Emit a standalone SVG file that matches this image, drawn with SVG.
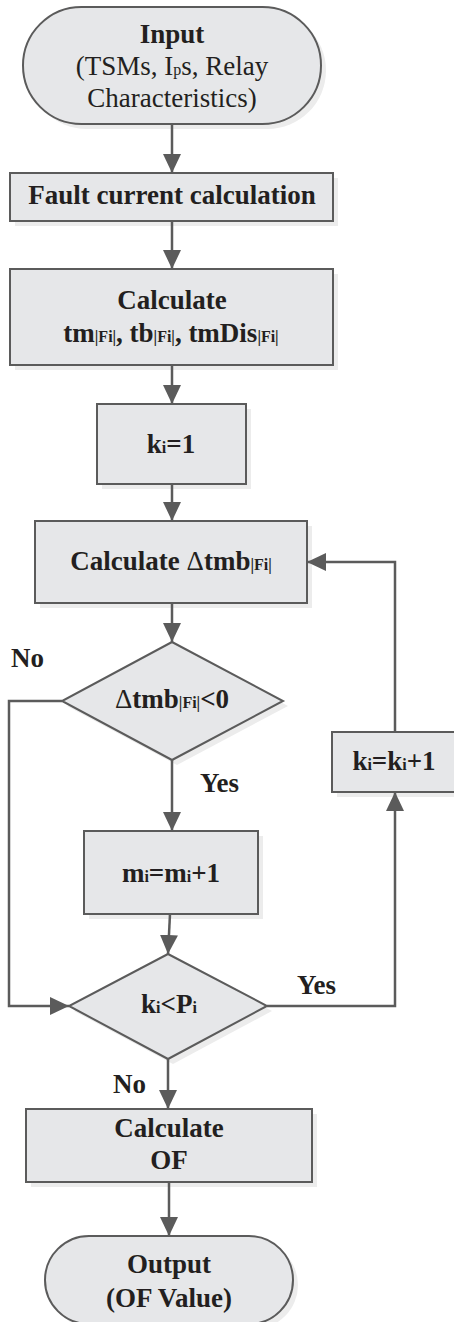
<svg xmlns="http://www.w3.org/2000/svg" width="454" height="1322" viewBox="0 0 454 1322">
<style>
.shape{fill:#e6e7e9;stroke:#5b5b5b;stroke-width:2}
.shadow{fill:#ececec;stroke:none}
.t{font-family:"Liberation Serif","Times New Roman",serif;font-size:27px;fill:#231f20;text-anchor:middle}
.b{font-weight:bold}
.s{font-size:16px}
.lbl{font-family:"Liberation Serif","Times New Roman",serif;font-size:27px;font-weight:bold;fill:#231f20}
.c{fill:none;stroke:#5b5b5b;stroke-width:2.5;marker-end:url(#ah)}
.cn{fill:none;stroke:#5b5b5b;stroke-width:2.5}
</style>
<defs>
<marker id="ah" markerUnits="userSpaceOnUse" markerWidth="20" markerHeight="20" viewBox="0 0 20 20" refX="19" refY="10" orient="auto">
<path d="M0,1 L19,10 L0,19 Z" fill="#5b5b5b"/>
</marker>
</defs>

<g id="input">
<rect class="shadow" x="28" y="12" width="298" height="117" rx="58.5"/>
<rect class="shape" x="23" y="7" width="298" height="117" rx="58.5"/>
<text class="t b" x="172" y="43">Input</text>
<text class="t" x="172" y="75">(TSMs, I<tspan class="s">p</tspan>s, Relay</text>
<text class="t" x="172" y="107">Characteristics)</text>
</g>

<g id="fault">
<rect class="shadow" x="15" y="178" width="323" height="48"/>
<rect class="shape" x="10" y="173" width="323" height="48"/>
<text class="t b" x="172" y="204">Fault current calculation</text>
</g>

<g id="calc1">
<rect class="shadow" x="15" y="274" width="323" height="96"/>
<rect class="shape" x="10" y="269" width="323" height="96"/>
<text class="t b" x="172" y="309">Calculate</text>
<text class="t b" x="171" y="342">tm<tspan class="s">|Fi|</tspan>, tb<tspan class="s">|Fi|</tspan>, tmDis<tspan class="s">|Fi|</tspan></text>
</g>

<g id="kinit">
<rect class="shadow" x="102" y="409" width="149" height="80"/>
<rect class="shape" x="97" y="404" width="149" height="80"/>
<text class="t b" x="171" y="453">k<tspan class="s">i</tspan>=1</text>
</g>

<g id="calc2">
<rect class="shadow" x="40" y="526" width="272" height="82"/>
<rect class="shape" x="35" y="521" width="272" height="82"/>
<text class="t b" x="171" y="570">Calculate <tspan font-weight="normal">Δ</tspan>tmb<tspan class="s">|Fi|</tspan></text>
</g>

<g id="dec1">
<path class="shadow" d="M177,647 L288,706 L177,765 L67,706 Z"/>
<path class="shape" d="M172,642 L283,701 L172,760 L62,701 Z"/>
<text class="t b" x="172" y="708"><tspan font-weight="normal">Δ</tspan>tmb<tspan class="s">|Fi|</tspan>&lt;0</text>
</g>

<g id="mupdate">
<rect class="shadow" x="89" y="836" width="174" height="83"/>
<rect class="shape" x="84" y="831" width="174" height="83"/>
<text class="t b" x="171" y="882">m<tspan class="s">i</tspan>=m<tspan class="s">i</tspan>+1</text>
</g>

<g id="kupdate">
<rect class="shadow" x="337" y="737" width="124" height="60"/>
<rect class="shape" x="332" y="732" width="124" height="60"/>
<text class="t b" x="394" y="770">k<tspan class="s">i</tspan>=k<tspan class="s">i</tspan>+1</text>
</g>

<g id="dec2">
<path class="shadow" d="M173,959 L272,1011 L173,1064 L74,1011 Z"/>
<path class="shape" d="M168,954 L267,1006 L168,1059 L69,1006 Z"/>
<text class="t b" x="169" y="1013">k<tspan class="s">i</tspan>&lt;P<tspan class="s">i</tspan></text>
</g>

<g id="calcof">
<rect class="shadow" x="31" y="1114" width="286" height="73"/>
<rect class="shape" x="26" y="1109" width="286" height="73"/>
<text class="t b" x="169" y="1137">Calculate</text>
<text class="t b" x="169" y="1169">OF</text>
</g>

<g id="output">
<rect class="shadow" x="50" y="1241" width="248" height="88" rx="44"/>
<rect class="shape" x="45" y="1236" width="248" height="88" rx="44"/>
<text class="t b" x="169" y="1273">Output</text>
<text class="t b" x="169" y="1307">(OF Value)</text>
</g>

<g id="connectors">
<path class="c" d="M172,124 L172,173"/>
<path class="c" d="M172,221 L172,269"/>
<path class="c" d="M172,365 L172,404"/>
<path class="c" d="M172,484 L172,521"/>
<path class="c" d="M172,603 L172,642"/>
<path class="c" d="M172,760 L172,831"/>
<path class="c" d="M170,914 L168,954"/>
<path class="c" d="M62,701 L9,701 L9,1006 L69,1006"/>
<path class="c" d="M267,1006 L395,1006 L395,792"/>
<path class="c" d="M395,732 L395,562 L307,562"/>
<path class="c" d="M168,1059 L168,1109"/>
<path class="c" d="M169,1182 L169,1236"/>
</g>

<g id="labels">
<text class="lbl" x="11" y="667">No</text>
<text class="lbl" x="200" y="792">Yes</text>
<text class="lbl" x="297" y="994">Yes</text>
<text class="lbl" x="113" y="1093">No</text>
</g>
</svg>
